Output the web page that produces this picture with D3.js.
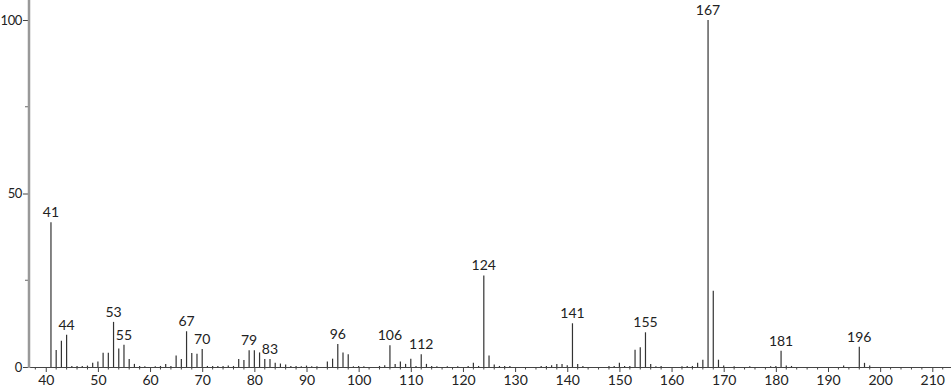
<!DOCTYPE html>
<html><head><meta charset="utf-8">
<script src="https://cdn.jsdelivr.net/npm/d3@7"></script>
<style>
html,body{margin:0;padding:0;background:#fff;}
svg{display:block;font-family:Lato,"DejaVu Sans",sans-serif;}
</style></head>
<body><svg id="c" width="951" height="389"></svg>
<script>
const mz = [41,42,43,44,45,46,47,48,49,50,51,52,53,54,55,56,57,58,59,61,62,63,64,65,66,67,68,69,70,71,72,73,74,75,76,77,78,79,80,81,82,83,84,85,86,87,88,89,90,91,92,
94,95,96,97,98,99,100,101,104,105,106,107,108,109,110,111,112,113,114,115,117,119,121,122,123,124,125,126,127,128,129,
135,136,137,138,139,140,141,142,143,148,149,150,151,152,153,154,155,156,157,158,162,163,164,165,166,167,168,169,170,172,175,179,180,181,182,183,193,196,197,198];
const intensity = [41.7,4.9,7.6,9.3,0.3,0.3,0.3,0.4,1.2,1.6,4.1,4.1,13.0,5.3,6.4,2.3,0.9,0.3,0.2,0.2,0.3,0.9,0.3,3.3,2.3,10.3,4.0,3.8,5.2,0.3,0.3,0.3,0.3,0.4,0.3,2.3,2.0,4.8,4.8,4.2,2.3,2.3,1.2,1.0,0.7,0.3,0.3,0.2,0.4,0.2,0.2,
1.6,2.4,6.6,4.2,3.7,0.2,0.3,0.2,0.3,0.5,6.3,0.9,1.6,0.9,2.4,0.3,3.7,0.9,0.3,0.2,0.2,0.2,0.3,1.2,0.3,26.4,3.3,0.7,0.3,0.3,0.3,
0.3,0.3,0.5,0.9,0.9,0.5,12.6,0.9,0.3,0.3,0.3,1.2,0.3,0.3,5.0,5.7,10.0,0.9,0.2,0.3,0.2,0.3,0.3,1.2,2.1,100,22.0,2.1,0.4,0.2,0.2,0.2,0.3,4.7,0.4,0.3,0.4,5.8,1.2,0.4];
const labeledPeaks = [41,44,53,55,67,70,79,83,96,106,112,124,141,155,167,181,196];
const xTicks = [40,50,60,70,80,90,100,110,120,130,140,150,160,170,180,190,200,210];
const yTicks = [0,50,100];
const yMinorTicks = [25,75];

const svg = d3.select("#c");
const x = d3.scaleLinear().domain([40,210]).range([45.75,932.3]);
const y = d3.scaleLinear().domain([0,100]).range([367,20]);
const axisLeftX = 29;

// minor x ticks every 2
const minor = d3.range(38,213,2).filter(v=>v%10!==0);
svg.append("g").selectAll("line").data(minor).join("line")
  .attr("x1",d=>x(d)).attr("x2",d=>x(d)).attr("y1",y(0)).attr("y2",y(0)+2.5)
  .attr("stroke","#444").attr("stroke-width",1);

// major x axis
const xAxis = d3.axisBottom(x).tickValues(xTicks).tickSize(5).tickPadding(3).tickSizeOuter(0);
const gx = svg.append("g").attr("transform",`translate(0,${y(0)})`).call(xAxis);
gx.select(".domain").remove();
gx.selectAll(".tick line").attr("stroke","#444");
gx.selectAll(".tick text").attr("font-size",14).attr("fill","#222").attr("font-family","Lato,'DejaVu Sans',sans-serif");
svg.append("line").attr("x1",axisLeftX).attr("x2",951).attr("y1",y(0)+0.5).attr("y2",y(0)+0.5)
  .attr("stroke","#444").attr("stroke-width",1);

// peaks
const peaks = mz.map((m,i)=>({m,v:intensity[i]}));
svg.append("g").selectAll("line").data(peaks).join("line")
  .attr("x1",d=>x(d.m)).attr("x2",d=>x(d.m))
  .attr("y1",y(0)).attr("y2",d=>y(d.v))
  .attr("stroke","#333").attr("stroke-width",1.2);

// labels
svg.append("g").selectAll("text").data(peaks.filter(d=>labeledPeaks.includes(d.m))).join("text")
  .attr("x",d=>x(d.m)).attr("y",d=>y(d.v)-5)
  .attr("text-anchor","middle").attr("font-size",14).attr("fill","#222")
  .text(d=>d.m);

// y axis
const yAxis = d3.axisLeft(y).tickValues(yTicks).tickSize(5).tickPadding(1).tickSizeOuter(0);
const gy = svg.append("g").attr("transform",`translate(${axisLeftX-1},0)`).call(yAxis);
gy.select(".domain").remove();
gy.selectAll(".tick line").attr("stroke","#444");
gy.selectAll(".tick text").attr("font-size",13).attr("letter-spacing",-0.4).attr("fill","#222").attr("font-family","Lato,'DejaVu Sans',sans-serif");
svg.append("g").selectAll("line").data(yMinorTicks).join("line")
  .attr("x1",axisLeftX-4).attr("x2",axisLeftX).attr("y1",d=>y(d)).attr("y2",d=>y(d))
  .attr("stroke","#666");
svg.append("line").attr("x1",axisLeftX).attr("x2",axisLeftX).attr("y1",0).attr("y2",y(0)+1)
  .attr("stroke","#999").attr("stroke-width",2.5);
</script></body></html>
